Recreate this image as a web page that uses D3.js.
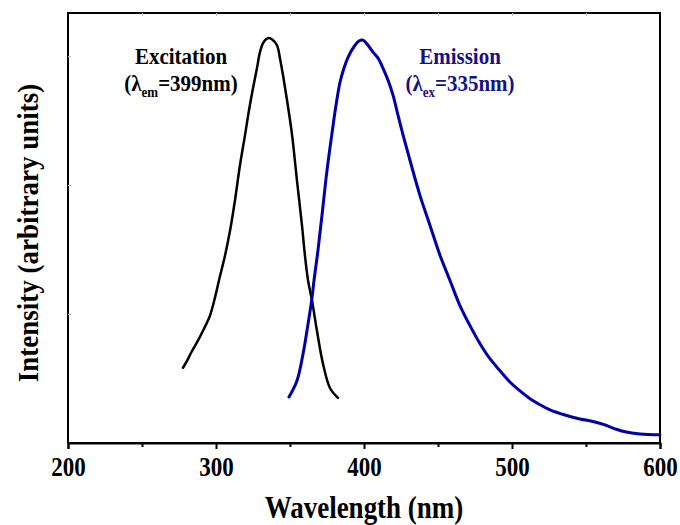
<!DOCTYPE html>
<html>
<head>
<meta charset="utf-8">
<script src="https://cdn.jsdelivr.net/npm/d3@7"></script>
<style>
  html, body { margin: 0; padding: 0; background: #fff; }
  svg text { font-family: "Liberation Serif", "Times New Roman", serif; font-weight: bold; }
</style>
</head>
<body>
<svg id="chart" width="680" height="525"></svg>
<script>
// ---- data ----
const excitationWavelength = [277.7,280.4,283.8,287.8,291.2,295.9,299.3,302.0,306.1,309.5,312.8,316.2,319.6,322.3,325.0,327.7,329.7,331.8,333.8,335.8,337.8,341.2,343.2,345.3,348.0,351.4,354.7,358.1,360.1,362.2,364.9,368.2,372.3,377.0,382.4];
const excitationIntensity  = [17.5,19.1,21.4,23.8,26.1,29.6,33.8,37.8,43.6,49.4,56.4,64.6,71.6,77.4,82.5,87.2,90.9,93.0,93.9,94.2,93.9,92.5,89.5,85.5,79.7,71.6,61.1,50.6,43.6,37.8,33.1,26.1,18.4,12.8,10.5];

const emissionWavelength = [349.3,354.7,358.8,362.2,364.9,366.2,368.9,371.6,375.0,378.2,381.1,383.8,386.5,389.2,393.9,396.6,399.3,402.7,406.1,409.5,412.8,416.2,419.6,423.0,426.4,431.1,437.8,444.6,451.4,458.1,464.9,471.6,478.4,485.1,491.9,498.6,505.4,512.2,518.9,525.7,535.8,545.9,556.1,562.8,569.6,576.4,586.5,600.0];
const emissionIntensity  = [10.7,14.5,20.7,27.7,33.8,37.8,44.8,52.9,63.4,71.6,78.6,83.9,87.2,89.7,92.5,93.5,93.7,92.5,90.9,89.5,87.2,84.4,80.9,76.2,71.6,65.7,57.6,50.6,43.6,37.8,31.9,27.3,23.1,19.6,16.8,14.2,12.1,10.3,8.9,7.7,6.5,5.6,4.9,4.2,3.3,2.6,2.1,1.9];

const xMajorTicks = [200, 300, 400, 500, 600];
const xMinorTicks = [250, 350, 450, 550];
const yFaintTicks = [30, 60, 90];

const xTitle = "Wavelength (nm)";
const yTitle = "Intensity (arbitrary units)";

// ---- layout ----
const svg = d3.select("#chart");
const mLeft = 68, mRight = 660, mTop = 13, mBottom = 443;

const x = d3.scaleLinear().domain([200, 600]).range([mLeft, mRight]);
const y = d3.scaleLinear().domain([0, 100]).range([mBottom, mTop]);

// frame
svg.append("rect")
  .attr("x", mLeft).attr("y", mTop)
  .attr("width", mRight - mLeft).attr("height", mBottom - mTop)
  .attr("fill", "none").attr("stroke", "#000").attr("stroke-width", 2);

// bottom axis
const xAxis = d3.axisBottom(x).tickValues(xMajorTicks).tickSize(6).tickPadding(5).tickFormat(d3.format("d"));
const gx = svg.append("g").attr("transform", `translate(0,${mBottom})`).call(xAxis);
gx.select(".domain").attr("stroke-width", 2);
gx.selectAll(".tick line").attr("stroke-width", 2);
gx.selectAll(".tick text").attr("font-size", 23).attr("fill", "#000")
  .attr("transform", "scale(1,1.2)")
  .style("font-family", '"Liberation Serif", serif').style("font-weight", "bold");

const xMinor = d3.axisBottom(x).tickValues(xMinorTicks).tickSize(4).tickFormat("");
const gxm = svg.append("g").attr("transform", `translate(0,${mBottom})`).call(xMinor);
gxm.select(".domain").remove();
gxm.selectAll(".tick line").attr("stroke-width", 2);

// faint top ticks
const xTop = d3.axisBottom(x).tickValues(xMajorTicks.concat(xMinorTicks).filter(v => v > 200 && v < 600)).tickSize(3).tickFormat("");
const gxt = svg.append("g").attr("transform", `translate(0,${mTop})`).call(xTop);
gxt.select(".domain").remove();
gxt.selectAll(".tick line").attr("stroke", "#bbb").attr("stroke-width", 1);

// faint left ticks
const yLeft = d3.axisRight(y).tickValues(yFaintTicks).tickSize(3).tickFormat("");
const gyl = svg.append("g").attr("transform", `translate(${mLeft},0)`).call(yLeft);
gyl.select(".domain").remove();
gyl.selectAll(".tick line").attr("stroke", "#bbb").attr("stroke-width", 1);

// lines
const line = d3.line().x(d => x(d[0])).y(d => y(d[1])).curve(d3.curveCatmullRom);

svg.append("path")
  .datum(d3.zip(excitationWavelength, excitationIntensity))
  .attr("d", line).attr("fill", "none").attr("stroke", "#000").attr("stroke-width", 2.5)
  .attr("stroke-linejoin", "round").attr("stroke-linecap", "round");

svg.append("path")
  .datum(d3.zip(emissionWavelength, emissionIntensity))
  .attr("d", line).attr("fill", "none").attr("stroke", "#0000aa").attr("stroke-width", 3)
  .attr("stroke-linejoin", "round").attr("stroke-linecap", "round");

// annotations
function label(cx, text1, sub, text2, color) {
  svg.append("text").attr("transform", `translate(${cx},64) scale(1,1.08)`).attr("text-anchor", "middle")
    .attr("font-size", 21).attr("fill", color).text(text1);
  const t = svg.append("text").attr("transform", `translate(${cx},91) scale(1,1.08)`).attr("text-anchor", "middle")
    .attr("font-size", 21).attr("fill", color);
  t.append("tspan").text("(λ");
  t.append("tspan").attr("font-size", 13).attr("dy", 6).text(sub);
  t.append("tspan").attr("dy", -6).text(text2);
}
label(181, "Excitation", "em", "=399nm)", "#000");
label(460, "Emission", "ex", "=335nm)", "#12128a");

// axis titles
svg.append("text").attr("transform", `translate(${(mLeft + mRight) / 2},518) scale(1,1.15)`).attr("text-anchor", "middle")
  .attr("font-size", 27).attr("fill", "#000").text(xTitle);

svg.append("text").attr("transform", `translate(38,233) rotate(-90) scale(1,1.12)`)
  .attr("text-anchor", "middle").attr("font-size", 27).attr("fill", "#000").text(yTitle);
</script>
</body>
</html>
